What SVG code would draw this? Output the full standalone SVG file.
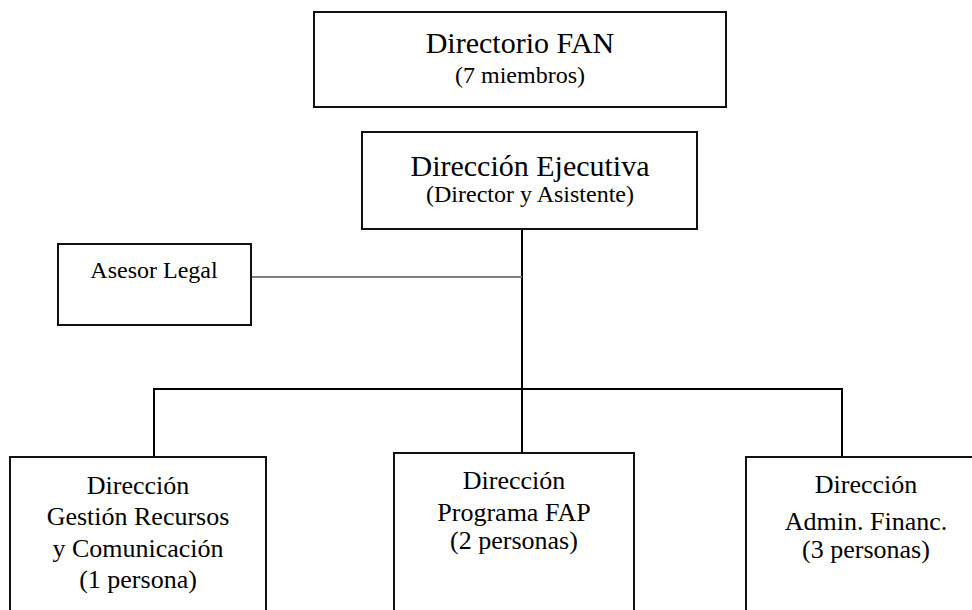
<svg xmlns="http://www.w3.org/2000/svg" width="972" height="610" viewBox="0 0 972 610" font-family="Liberation Serif, DejaVu Serif, serif">
<style>
.box{fill:#fff;stroke:#111;stroke-width:2}
.ln{stroke:#000;stroke-width:2;fill:none}
.gl{stroke:#808080;stroke-width:2;fill:none}
.tx{font-family:"Liberation Serif",serif;fill:#000;text-anchor:middle}
.t{font-size:30px}
.s{font-size:24px}
.b{font-size:26px}
</style>
<rect width="972" height="610" fill="#fff"/>
<g id="connectors">
<line class="ln" x1="522" y1="229" x2="522" y2="389"/>
<line class="gl" x1="251" y1="277" x2="522" y2="277"/>
<line class="ln" x1="153" y1="389" x2="843" y2="389"/>
<line class="ln" x1="154" y1="389" x2="154" y2="457"/>
<line class="ln" x1="522" y1="389" x2="522" y2="453"/>
<line class="ln" x1="842" y1="389" x2="842" y2="457"/>
</g>
<g id="directorio">
<rect class="box" x="314" y="12" width="412" height="95"/>
<text class="tx t" x="520" y="53">Directorio FAN</text>
<text class="tx s" x="520" y="83">(7 miembros)</text>
</g>
<g id="ejecutiva">
<rect class="box" x="362" y="132" width="335" height="97"/>
<text class="tx t" x="530" y="176">Dirección Ejecutiva</text>
<text class="tx s" x="530" y="202">(Director y Asistente)</text>
</g>
<g id="asesor">
<rect class="box" x="58" y="244" width="193" height="81"/>
<text class="tx s" x="154" y="278">Asesor Legal</text>
</g>
<g id="gestion">
<rect class="box" x="10" y="457" width="256" height="170"/>
<text class="tx b" x="138" y="494">Dirección</text>
<text class="tx b" x="138" y="525">Gestión Recursos</text>
<text class="tx b" x="138" y="557">y Comunicación</text>
<text class="tx b" x="138" y="588">(1 persona)</text>
</g>
<g id="programa">
<rect class="box" x="394" y="453" width="240" height="170"/>
<text class="tx b" x="514" y="489">Dirección</text>
<text class="tx b" x="514" y="521">Programa FAP</text>
<text class="tx b" x="514" y="549">(2 personas)</text>
</g>
<g id="admin">
<rect class="box" x="746" y="457" width="240" height="170"/>
<text class="tx b" x="866" y="493">Dirección</text>
<text class="tx b" x="866" y="530">Admin. Financ.</text>
<text class="tx b" x="866" y="558">(3 personas)</text>
</g>
</svg>
